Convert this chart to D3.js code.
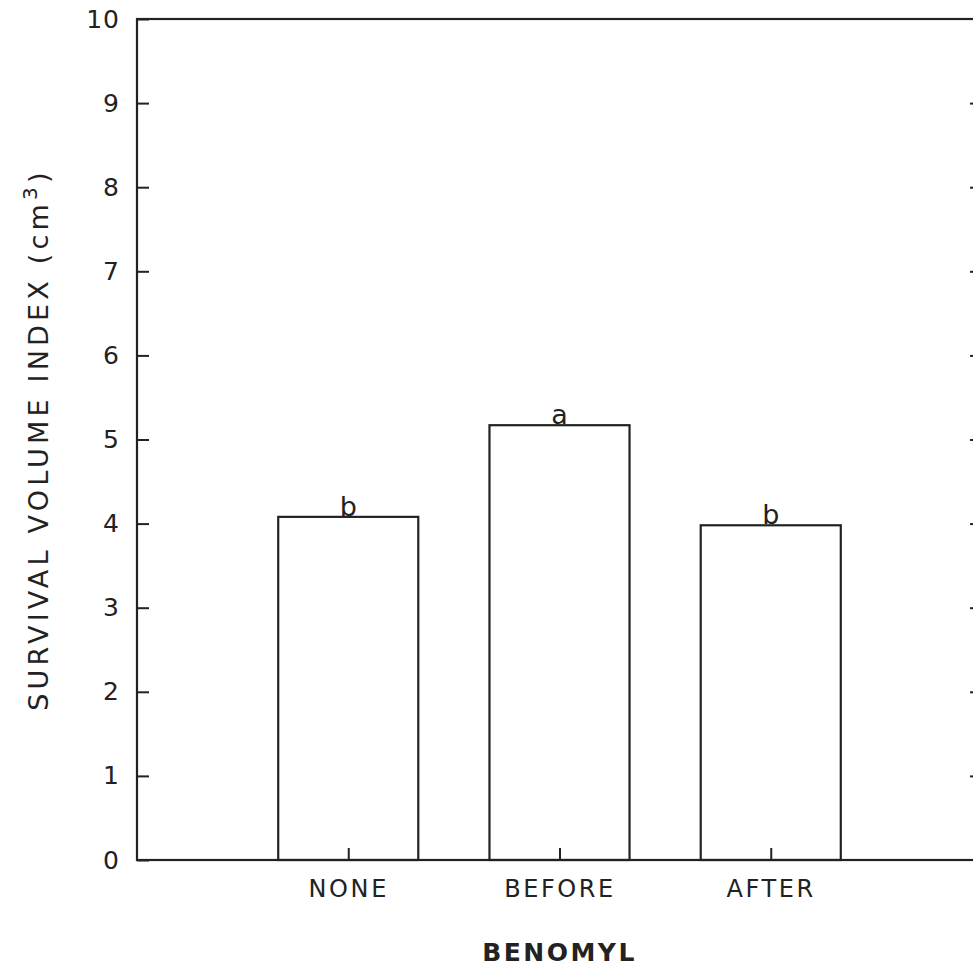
<!DOCTYPE html>
<html>
<head>
<meta charset="utf-8">
<script src="https://cdn.jsdelivr.net/npm/d3@7"></script>
<style>
  html, body { margin: 0; padding: 0; background: #fff; }
  svg { display: block; }
  text { font-family: "DejaVu Sans", sans-serif; fill: #222; }
</style>
</head>
<body>
<script>
// Benomyl treatment timing vs. survival volume index
const categories = ["NONE", "BEFORE", "AFTER"];
const values = [4.08, 5.17, 3.98];
const letters = ["b", "a", "b"];
const yTicks = [0, 1, 2, 3, 4, 5, 6, 7, 8, 9, 10];

const W = 973, H = 966;
const margin = { left: 137, top: 19, right: -9, bottom: 106 };
const ink = "#222";

const svg = d3.select("body").append("svg")
  .attr("width", W).attr("height", H);

const x = d3.scaleLinear().domain([0, categories.length + 1])
  .range([margin.left, W - margin.right]);
const y = d3.scaleLinear().domain([0, 10])
  .range([H - margin.bottom, margin.top]);
const barW = (x(1) - x(0)) * 0.663;

const x0 = x.range()[0], x1 = x.range()[1];
const y0 = y.range()[0], y1 = y.range()[1];

// Bars
svg.append("g").selectAll("rect").data(values).join("rect")
  .attr("x", (d, i) => x(i + 1) - barW / 2)
  .attr("y", d => y(d))
  .attr("width", barW)
  .attr("height", d => y(0) - y(d))
  .attr("fill", "#fff")
  .attr("stroke", ink)
  .attr("stroke-width", 2.2);

// Frame
svg.append("rect")
  .attr("x", x0).attr("y", y1)
  .attr("width", x1 - x0).attr("height", y0 - y1)
  .attr("fill", "none").attr("stroke", ink).attr("stroke-width", 2.2);

// Left axis ticks (inward) and labels
const yAxisL = d3.axisLeft(y).tickValues(yTicks).tickSizeInner(-12).tickSizeOuter(0)
  .tickPadding(17).tickFormat(d3.format("d"));
const gL = svg.append("g").attr("transform", `translate(${x0},0)`).call(yAxisL);
gL.select(".domain").remove();
gL.selectAll("line").attr("stroke", ink).attr("stroke-width", 2);
gL.selectAll("text").attr("font-size", 25).attr("fill", ink)
  .attr("letter-spacing", 1)
  .style("font-family", "'DejaVu Sans', sans-serif");

// Right axis ticks (inward)
const yAxisR = d3.axisRight(y).tickValues(yTicks.slice(1, -1)).tickSizeInner(-12)
  .tickSizeOuter(0).tickFormat("");
const gR = svg.append("g").attr("transform", `translate(${x1},0)`).call(yAxisR);
gR.select(".domain").remove();
gR.selectAll("line").attr("stroke", ink).attr("stroke-width", 2);

// Bottom category ticks and labels
const xAxis = d3.axisBottom(x).tickValues(categories.map((c, i) => i + 1))
  .tickSizeInner(-12).tickSizeOuter(0).tickPadding(20)
  .tickFormat((d) => categories[d - 1]);
const gB = svg.append("g").attr("transform", `translate(0,${y0})`).call(xAxis);
gB.select(".domain").remove();
gB.selectAll("line").attr("stroke", ink).attr("stroke-width", 2);
gB.selectAll("text").attr("font-size", 24).attr("fill", ink)
  .attr("letter-spacing", 2.6)
  .style("font-family", "'DejaVu Sans', sans-serif");

// Significance letters
svg.append("g").selectAll("text").data(values).join("text")
  .attr("x", (d, i) => x(i + 1))
  .attr("y", d => y(d) - 1)
  .attr("text-anchor", "middle")
  .attr("font-size", 27)
  .text((d, i) => letters[i]);

// Axis titles
svg.append("text")
  .attr("x", (x0 + x1) / 2 - 0).attr("y", 961)
  .attr("text-anchor", "middle")
  .attr("font-size", 25).attr("font-weight", "bold").attr("letter-spacing", 2.5)
  .text("BENOMYL");

const yt = svg.append("text")
  .attr("transform", `translate(48,${(y0 + y1) / 2}) rotate(-90)`)
  .attr("text-anchor", "middle")
  .attr("font-size", 27).attr("letter-spacing", 4.2);
yt.append("tspan").text("SURVIVAL VOLUME INDEX (cm");
yt.append("tspan").attr("dy", -11).attr("font-size", 20).text("3");
yt.append("tspan").attr("dy", 11).text(")");
</script>
</body>
</html>
